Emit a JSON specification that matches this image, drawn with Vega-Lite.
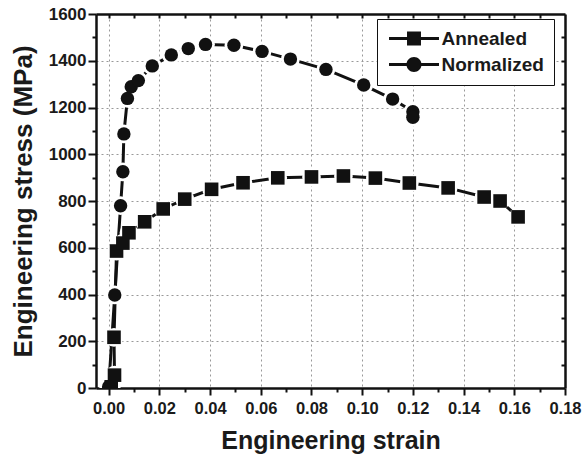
{
  "$schema": "https://vega.github.io/schema/vega-lite/v6.json",
  "autosize": "none",
  "width": 469,
  "height": 374,
  "padding": {"left": 96, "top": 14, "right": 20, "bottom": 73},
  "background": "white",
  "config": {
    "view": {"stroke": null},
    "axis": {
      "labelFont": "Liberation Sans",
      "titleFont": "Liberation Sans",
      "labelFontWeight": "bold",
      "titleFontWeight": "bold",
      "labelColor": "#1a1a1a",
      "titleColor": "#1a1a1a",
      "domainColor": "#111111",
      "tickColor": "#111111",
      "domainWidth": 2.5,
      "tickWidth": 2
    },
    "legend": {
      "labelFont": "Liberation Sans",
      "labelFontWeight": "bold",
      "labelColor": "#1a1a1a"
    }
  },
  "data": {
    "values": [
      {"i": 0, "series": "Annealed", "strain": 0.0010, "stress": 5},
      {"i": 1, "series": "Annealed", "strain": 0.0023, "stress": 55},
      {"i": 2, "series": "Annealed", "strain": 0.0021, "stress": 217},
      {"i": 3, "series": "Annealed", "strain": 0.0031, "stress": 586},
      {"i": 4, "series": "Annealed", "strain": 0.0056, "stress": 620},
      {"i": 5, "series": "Annealed", "strain": 0.0080, "stress": 664},
      {"i": 6, "series": "Annealed", "strain": 0.0142, "stress": 711},
      {"i": 7, "series": "Annealed", "strain": 0.0215, "stress": 766},
      {"i": 8, "series": "Annealed", "strain": 0.0300, "stress": 808},
      {"i": 9, "series": "Annealed", "strain": 0.0406, "stress": 850},
      {"i": 10, "series": "Annealed", "strain": 0.0530, "stress": 878},
      {"i": 11, "series": "Annealed", "strain": 0.0667, "stress": 899},
      {"i": 12, "series": "Annealed", "strain": 0.0800, "stress": 903},
      {"i": 13, "series": "Annealed", "strain": 0.0926, "stress": 907},
      {"i": 14, "series": "Annealed", "strain": 0.1052, "stress": 898},
      {"i": 15, "series": "Annealed", "strain": 0.1186, "stress": 877},
      {"i": 16, "series": "Annealed", "strain": 0.1339, "stress": 856},
      {"i": 17, "series": "Annealed", "strain": 0.1481, "stress": 817},
      {"i": 18, "series": "Annealed", "strain": 0.1544, "stress": 800},
      {"i": 19, "series": "Annealed", "strain": 0.1615, "stress": 732},
      {"i": 20, "series": "Normalized", "strain": 0.0000, "stress": 5},
      {"i": 21, "series": "Normalized", "strain": 0.0024, "stress": 398},
      {"i": 22, "series": "Normalized", "strain": 0.0047, "stress": 780},
      {"i": 23, "series": "Normalized", "strain": 0.0056, "stress": 925},
      {"i": 24, "series": "Normalized", "strain": 0.0060, "stress": 1087},
      {"i": 25, "series": "Normalized", "strain": 0.0074, "stress": 1239},
      {"i": 26, "series": "Normalized", "strain": 0.0089, "stress": 1289},
      {"i": 27, "series": "Normalized", "strain": 0.0117, "stress": 1315},
      {"i": 28, "series": "Normalized", "strain": 0.0172, "stress": 1378},
      {"i": 29, "series": "Normalized", "strain": 0.0247, "stress": 1425},
      {"i": 30, "series": "Normalized", "strain": 0.0314, "stress": 1452},
      {"i": 31, "series": "Normalized", "strain": 0.0382, "stress": 1470},
      {"i": 32, "series": "Normalized", "strain": 0.0494, "stress": 1466},
      {"i": 33, "series": "Normalized", "strain": 0.0605, "stress": 1440},
      {"i": 34, "series": "Normalized", "strain": 0.0717, "stress": 1407},
      {"i": 35, "series": "Normalized", "strain": 0.0857, "stress": 1363},
      {"i": 36, "series": "Normalized", "strain": 0.1006, "stress": 1296},
      {"i": 37, "series": "Normalized", "strain": 0.1120, "stress": 1236},
      {"i": 38, "series": "Normalized", "strain": 0.1200, "stress": 1182},
      {"i": 39, "series": "Normalized", "strain": 0.1200, "stress": 1158}
    ]
  },
  "layer": [
    {
      "mark": {"type": "line", "color": "#111111", "strokeWidth": 3, "clip": true},
      "encoding": {
        "x": {
          "field": "strain", "type": "quantitative",
          "scale": {"domain": [-0.005, 0.18], "nice": false, "zero": false},
          "axis": {
            "orient": "bottom",
            "values": [0, 0.02, 0.04, 0.06, 0.08, 0.1, 0.12, 0.14, 0.16, 0.18],
            "format": ".2f",
            "title": "Engineering strain",
            "titleFontSize": 25,
            "titlePadding": 12,
            "labelFontSize": 16.5,
            "labelPadding": 5,
            "tickSize": 7,
            "grid": true,
            "gridDash": [2, 3],
            "gridColor": "#999999",
            "gridWidth": 1,
            "labelFlush": false
          }
        },
        "y": {
          "field": "stress", "type": "quantitative",
          "scale": {"domain": [0, 1600], "nice": false},
          "axis": {
            "orient": "left",
            "values": [0, 200, 400, 600, 800, 1000, 1200, 1400, 1600],
            "format": "d",
            "title": "Engineering stress (MPa)",
            "titleFontSize": 26,
            "titlePadding": 12,
            "labelFontSize": 17,
            "labelPadding": 2,
            "tickSize": 8,
            "grid": true,
            "gridDash": [2, 3],
            "gridColor": "#999999",
            "gridWidth": 1,
            "labelFlush": false
          }
        },
        "detail": {"field": "series"},
        "order": {"field": "i"}
      }
    },
    {
      "mark": {"type": "circle", "color": "white", "opacity": 1, "size": 350, "clip": true},
      "encoding": {
        "x": {
          "field": "strain", "type": "quantitative",
          "axis": {
            "orient": "bottom",
            "values": [0.01, 0.03, 0.05, 0.07, 0.09, 0.11, 0.13, 0.15, 0.17],
            "labels": false, "domain": false, "grid": false, "title": null, "tickSize": 4
          }
        },
        "y": {
          "field": "stress", "type": "quantitative",
          "axis": {
            "orient": "left",
            "values": [100, 300, 500, 700, 900, 1100, 1300, 1500],
            "labels": false, "domain": false, "grid": false, "title": null, "tickSize": 4
          }
        }
      }
    },
    {
      "transform": [{"filter": "datum.series === 'Annealed'"}],
      "mark": {"type": "square", "color": "#111111", "opacity": 1, "size": 185, "clip": true},
      "encoding": {
        "x": {
          "field": "strain", "type": "quantitative",
          "axis": {
            "orient": "top",
            "values": [0, 0.01, 0.02, 0.03, 0.04, 0.05, 0.06, 0.07, 0.08, 0.09, 0.1, 0.11, 0.12, 0.13, 0.14, 0.15, 0.16, 0.17],
            "labels": false, "domain": true, "grid": false, "title": null, "tickSize": -4
          }
        },
        "y": {
          "field": "stress", "type": "quantitative",
          "axis": {
            "orient": "right",
            "values": [100, 200, 300, 400, 500, 600, 700, 800, 900, 1000, 1100, 1200, 1300, 1400, 1500],
            "labels": false, "domain": true, "grid": false, "title": null, "tickSize": -4
          }
        }
      }
    },
    {
      "transform": [{"filter": "datum.series === 'Normalized'"}],
      "mark": {"type": "circle", "color": "#111111", "opacity": 1, "size": 180, "clip": true},
      "encoding": {
        "x": {"field": "strain", "type": "quantitative", "axis": null},
        "y": {"field": "stress", "type": "quantitative", "axis": null}
      }
    },
    {
      "data": {"values": []},
      "mark": {"type": "point", "filled": true, "color": "#111111", "opacity": 1},
      "encoding": {
        "shape": {
          "field": "series", "type": "nominal",
          "scale": {
            "domain": ["Annealed", "Normalized"],
            "range": [
              "M-3.33,-0.2H3.33V0.2H-3.33Z M-0.93,-0.93H0.93V0.93H-0.93Z",
              "M-3.33,-0.2H3.33V0.2H-3.33Z M-1,0A1,1 0 1,1 1,0A1,1 0 1,1 -1,0Z"
            ]
          },
          "legend": {
            "title": null,
            "orient": "none",
            "legendX": 281,
            "legendY": 5,
            "strokeColor": "#111111",
            "fillColor": "white",
            "padding": 10,
            "symbolSize": 225,
            "symbolOffset": 17.5,
            "symbolFillColor": "#111111",
            "symbolStrokeColor": "#111111",
            "symbolStrokeWidth": 0,
            "symbolOpacity": 1,
            "labelFontSize": 19,
            "labelOffset": 18,
            "rowPadding": 6
          }
        }
      }
    }
  ],
  "resolve": {"axis": {"x": "independent", "y": "independent"}}
}
